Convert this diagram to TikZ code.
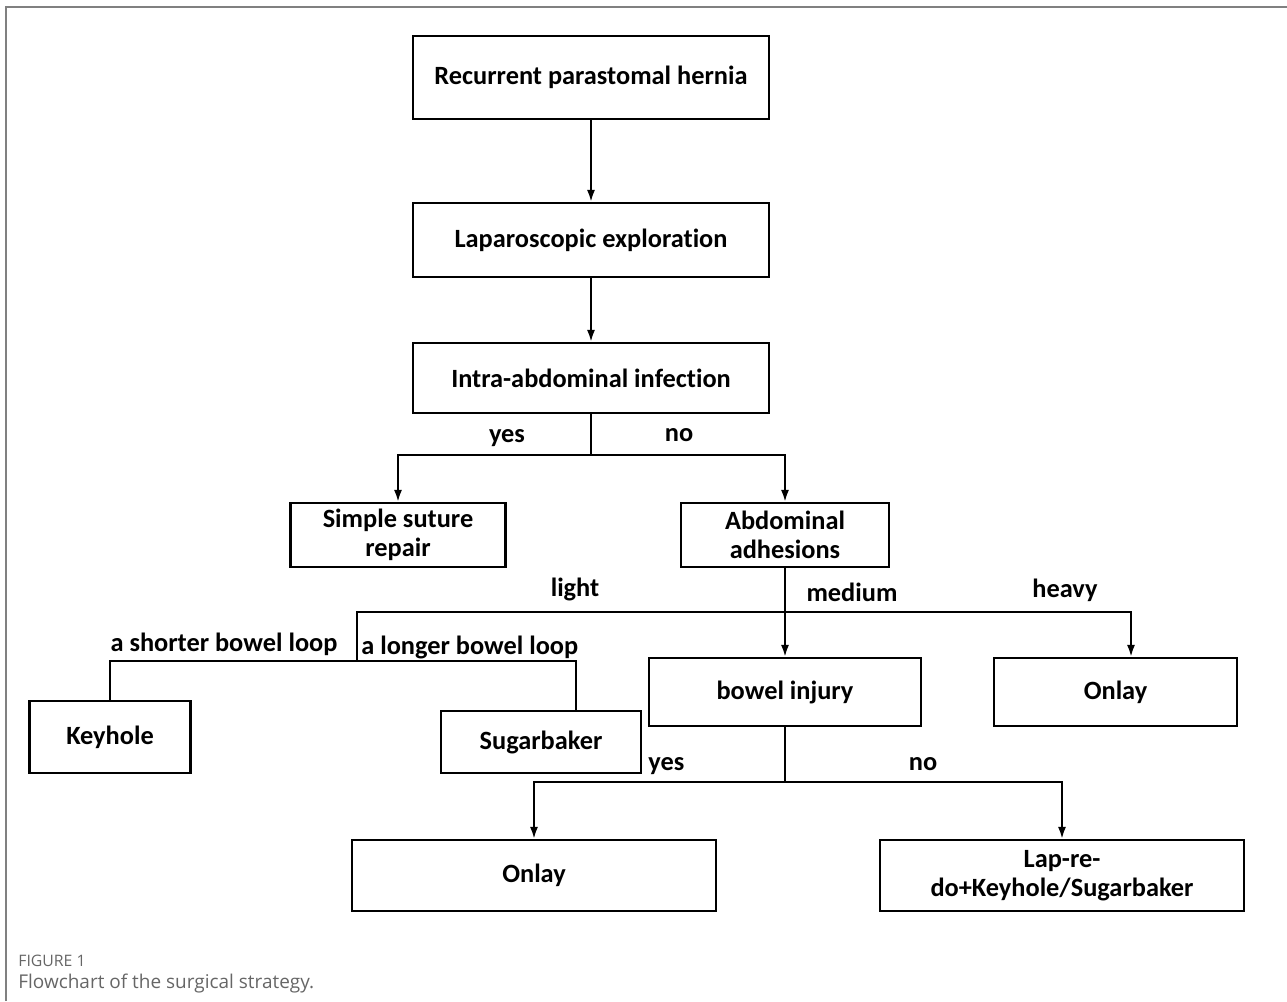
\documentclass[tikz,border=0pt]{standalone}
\usepackage{fontspec}
\setmainfont{Carlito}[Ligatures=NoCommon]
\newfontfamily\capfont{Open Sans}
\usetikzlibrary{arrows.meta}
\usetikzlibrary{positioning}

\begin{document}
\begin{tikzpicture}
[x=0.02cm, y=-0.02cm,
block/.style ={rectangle, draw, line width=1.2pt, align=center, inner sep=0pt,
               font=\fontsize{15}{16.5}\selectfont\bfseries},
tag/.style   ={inner sep=0pt, font=\fontsize{15}{16.5}\selectfont\bfseries},
line/.style  ={draw, line width=1.2pt, line join=miter},
arrow/.style ={line, -{Latex[length=0.24cm, width=0.16cm]}},
frame/.style ={draw, color=black!50, line width=0.8pt},
capt/.style  ={anchor=west, inner sep=0pt, text=black!60}]

\useasboundingbox (0,0) rectangle (1287,1001);

% frame
\path[frame] (6,1001) -- (6,7) -- (1287,7);

% boxes
\node[block, minimum width=7.12cm, minimum height=1.66cm] (recur) at (591,77.5) {Recurrent parastomal hernia};
\node[block, minimum width=7.12cm, minimum height=1.48cm] (explore) at (591,240) {Laparoscopic exploration};
\node[block, minimum width=7.12cm, minimum height=1.40cm] (infect) at (591,378) {Intra-abdominal infection};

\node[block, minimum width=4.30cm, minimum height=1.28cm] (suture) at (398,535) {Simple suture\\repair};
\node[block, minimum width=4.16cm, minimum height=1.28cm] (adhes) at (785,535) {Abdominal\\adhesions};

\node[block, minimum width=5.44cm, minimum height=1.36cm] (injury) at (785,692) {bowel injury};
\node[block, minimum width=4.86cm, minimum height=1.36cm] (onlayh) at (1115.5,692) {Onlay};
\node[block, minimum width=3.22cm, minimum height=1.44cm] (keyhole) at (110,737) {Keyhole};
\node[block, minimum width=4.00cm, minimum height=1.24cm] (sugar) at (541,742) {Sugarbaker};

\node[block, minimum width=7.28cm, minimum height=1.42cm] (onlayy) at (534,875.5) {Onlay};
\node[block, minimum width=7.28cm, minimum height=1.42cm] (redo) at (1062,875.5) {Lap-re-\\do+Keyhole/Sugarbaker};

% branch points
\coordinate (fork1) at (591,455);
\coordinate (fork2) at (785,612);
\coordinate (lightc) at (357,612);
\coordinate (loopc) at (357,661);
\coordinate (longc) at (576,661);
\coordinate (heavyc) at (1131,612);
\coordinate (fork3) at (785,782);

% connectors
\path[arrow] (recur) -- (explore);
\path[arrow] (explore) -- (infect);

\path[line] (infect) -- (fork1);
\path[arrow] (fork1) -| (suture);
\path[arrow] (fork1) -| (adhes);

\path[arrow] (adhes) -- (injury);
\path[line] (fork2) -- (lightc) -- (loopc);
\path[arrow] (fork2) -- (heavyc) -- (heavyc |- onlayh.north);

\path[line] (loopc) -| (keyhole);
\path[line] (loopc) -- (longc) -- (longc |- sugar.north);

\path[line] (injury) -- (fork3);
\path[arrow] (fork3) -| (onlayy);
\path[arrow] (fork3) -| (redo);

% labels
\node[tag] (yes1) at (507,438) {yes};
\node[tag] (no1) at (679,435) {no};
\node[tag] (light) at (575,589) {light};
\node[tag] (medium) at (852,592) {medium};
\node[tag] (heavy) at (1065,590) {heavy};
\node[tag] (short) at (224,644) {a shorter bowel loop};
\node[tag, anchor=west] (long) at (361,647) {a longer bowel loop};
\node[tag, anchor=west] (yes2) at (648,766) {yes};
\node[tag] (no2) at (923,764) {no};

% caption
\node[capt, font=\capfont\fontsize{9}{11}\selectfont] (fig) at (18,961) {FIGURE 1};
\node[capt, font=\capfont\fontsize{10.8}{13}\selectfont] (title) at (18,984) {Flowchart of the surgical strategy.};
\end{tikzpicture}
\end{document}
